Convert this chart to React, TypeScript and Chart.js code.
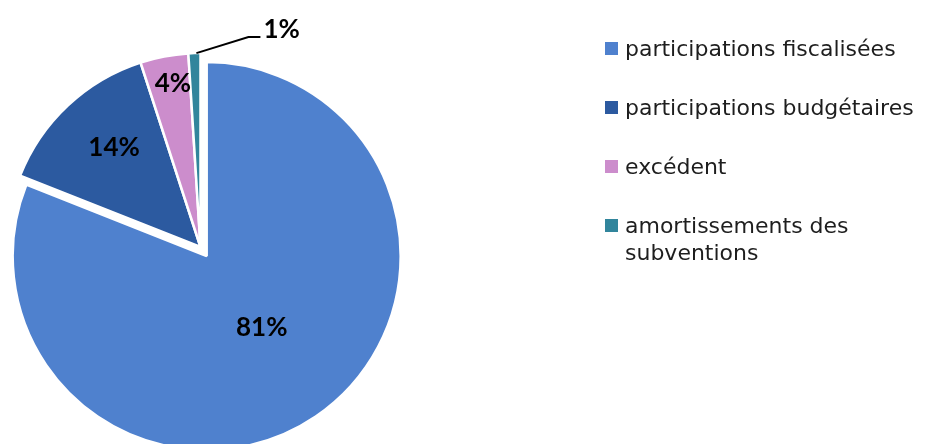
import React, { useEffect, useRef } from "react";
import { Chart, registerables } from "chart.js";

Chart.register(...registerables);

// ---- data ----
const categories = [
  "participations fiscalisées",
  "participations budgétaires",
  "excédent",
  "amortissements des subventions",
];
const legendLines = [
  ["participations fiscalisées"],
  ["participations budgétaires"],
  ["excédent"],
  ["amortissements des", "subventions"],
];
const values = [81, 14, 4, 1];
const percentLabels = ["81%", "14%", "4%", "1%"];
const colors = ["#4F81CE", "#2C5AA0", "#CC8DCC", "#31859C"];

// ---- layout / style config ----
const explode = [11, 0, 0, 0]; // px each slice is pulled out along its mid-angle
const labelPlace = [
  { r: 0.467, shift: -3.2, outside: false },
  { r: 0.678, shift: 2.1, outside: false },
  { r: 0.852, shift: 1.2, outside: false },
  { r: 1, shift: 0, outside: true },
];
const legendX = 605;
const legendFirstBaseline = 56;
const legendRowGap = 59;
const legendLineHeight = 27;

const explodePlugin = {
  id: "explodeSlices",
  afterDatasetUpdate(chart: any, args: any) {
    const meta = args.meta;
    meta.data.forEach((arc: any, i: number) => {
      const d = explode[i] || 0;
      if (!d) return;
      const mid = (arc.startAngle + arc.endAngle) / 2;
      arc.x += Math.cos(mid) * d;
      arc.y += Math.sin(mid) * d;
    });
  },
};

const pieLabelsPlugin = {
  id: "pieLabels",
  afterDatasetsDraw(chart: any) {
    const ctx = chart.ctx as CanvasRenderingContext2D;
    const meta = chart.getDatasetMeta(0);
    ctx.save();
    ctx.font = "bold 26px Lato";
    ctx.fillStyle = "#000";
    meta.data.forEach((arc: any, i: number) => {
      const p = arc.getProps(["x", "y", "startAngle", "endAngle", "outerRadius"], true);
      const mid = (p.startAngle + p.endAngle) / 2;
      const cx = p.x;
      const cy = p.y;
      const place = labelPlace[i];
      if (place.outside) {
        const ax = cx + Math.cos(mid) * p.outerRadius + 2;
        const ay = cy + Math.sin(mid) * p.outerRadius;
        const ex = ax + 52;
        const ey = ay - 16;
        ctx.beginPath();
        ctx.moveTo(ax, ay);
        ctx.lineTo(ex, ey);
        ctx.lineTo(ex + 12, ey);
        ctx.strokeStyle = "#000";
        ctx.lineWidth = 2;
        ctx.stroke();
        ctx.textAlign = "left";
        ctx.textBaseline = "alphabetic";
        ctx.fillText(percentLabels[i], ex + 15, ey + 1);
      } else {
        const a = mid + (place.shift * Math.PI) / 180;
        const r = p.outerRadius * place.r;
        ctx.textAlign = "center";
        ctx.textBaseline = "middle";
        ctx.fillText(percentLabels[i], cx + Math.cos(a) * r, cy + Math.sin(a) * r);
      }
    });
    ctx.restore();
  },
  afterDraw(chart: any) {
    const ctx = chart.ctx as CanvasRenderingContext2D;
    ctx.save();
    ctx.font = "22px 'DejaVu Sans'";
    ctx.textAlign = "left";
    ctx.textBaseline = "alphabetic";
    let baseline = legendFirstBaseline;
    legendLines.forEach((lines, i) => {
      ctx.fillStyle = colors[i];
      ctx.fillRect(legendX, baseline - 14, 13, 13);
      ctx.fillStyle = "#1E1E1E";
      lines.forEach((t, j) => {
        ctx.fillText(t, legendX + 20, baseline + j * legendLineHeight);
      });
      baseline += legendRowGap;
    });
    ctx.restore();
  },
};

export default function App() {
  const ref = useRef<HTMLCanvasElement | null>(null);
  useEffect(() => {
    if (!ref.current) return;
    const chart = new Chart(ref.current, {
      type: "pie",
      data: {
        labels: categories,
        datasets: [
          {
            data: values,
            backgroundColor: colors,
            borderColor: "#ffffff",
            borderWidth: 2.5,
            radius: 194,
          } as any,
        ],
      },
      options: {
        animation: false,
        responsive: false,
        events: [],
        layout: { padding: { left: 0, right: 531, top: 50, bottom: 0 } },
        plugins: {
          legend: { display: false },
          tooltip: { enabled: false },
        },
      },
      plugins: [explodePlugin, pieLabelsPlugin],
    });
    return () => chart.destroy();
  }, []);
  return (
    <div style={{ position: "absolute", left: 0, top: 0, width: 932, height: 444, background: "#fff" }}>
      <canvas ref={ref} width={932} height={444} style={{ display: "block" }} />
    </div>
  );
}
